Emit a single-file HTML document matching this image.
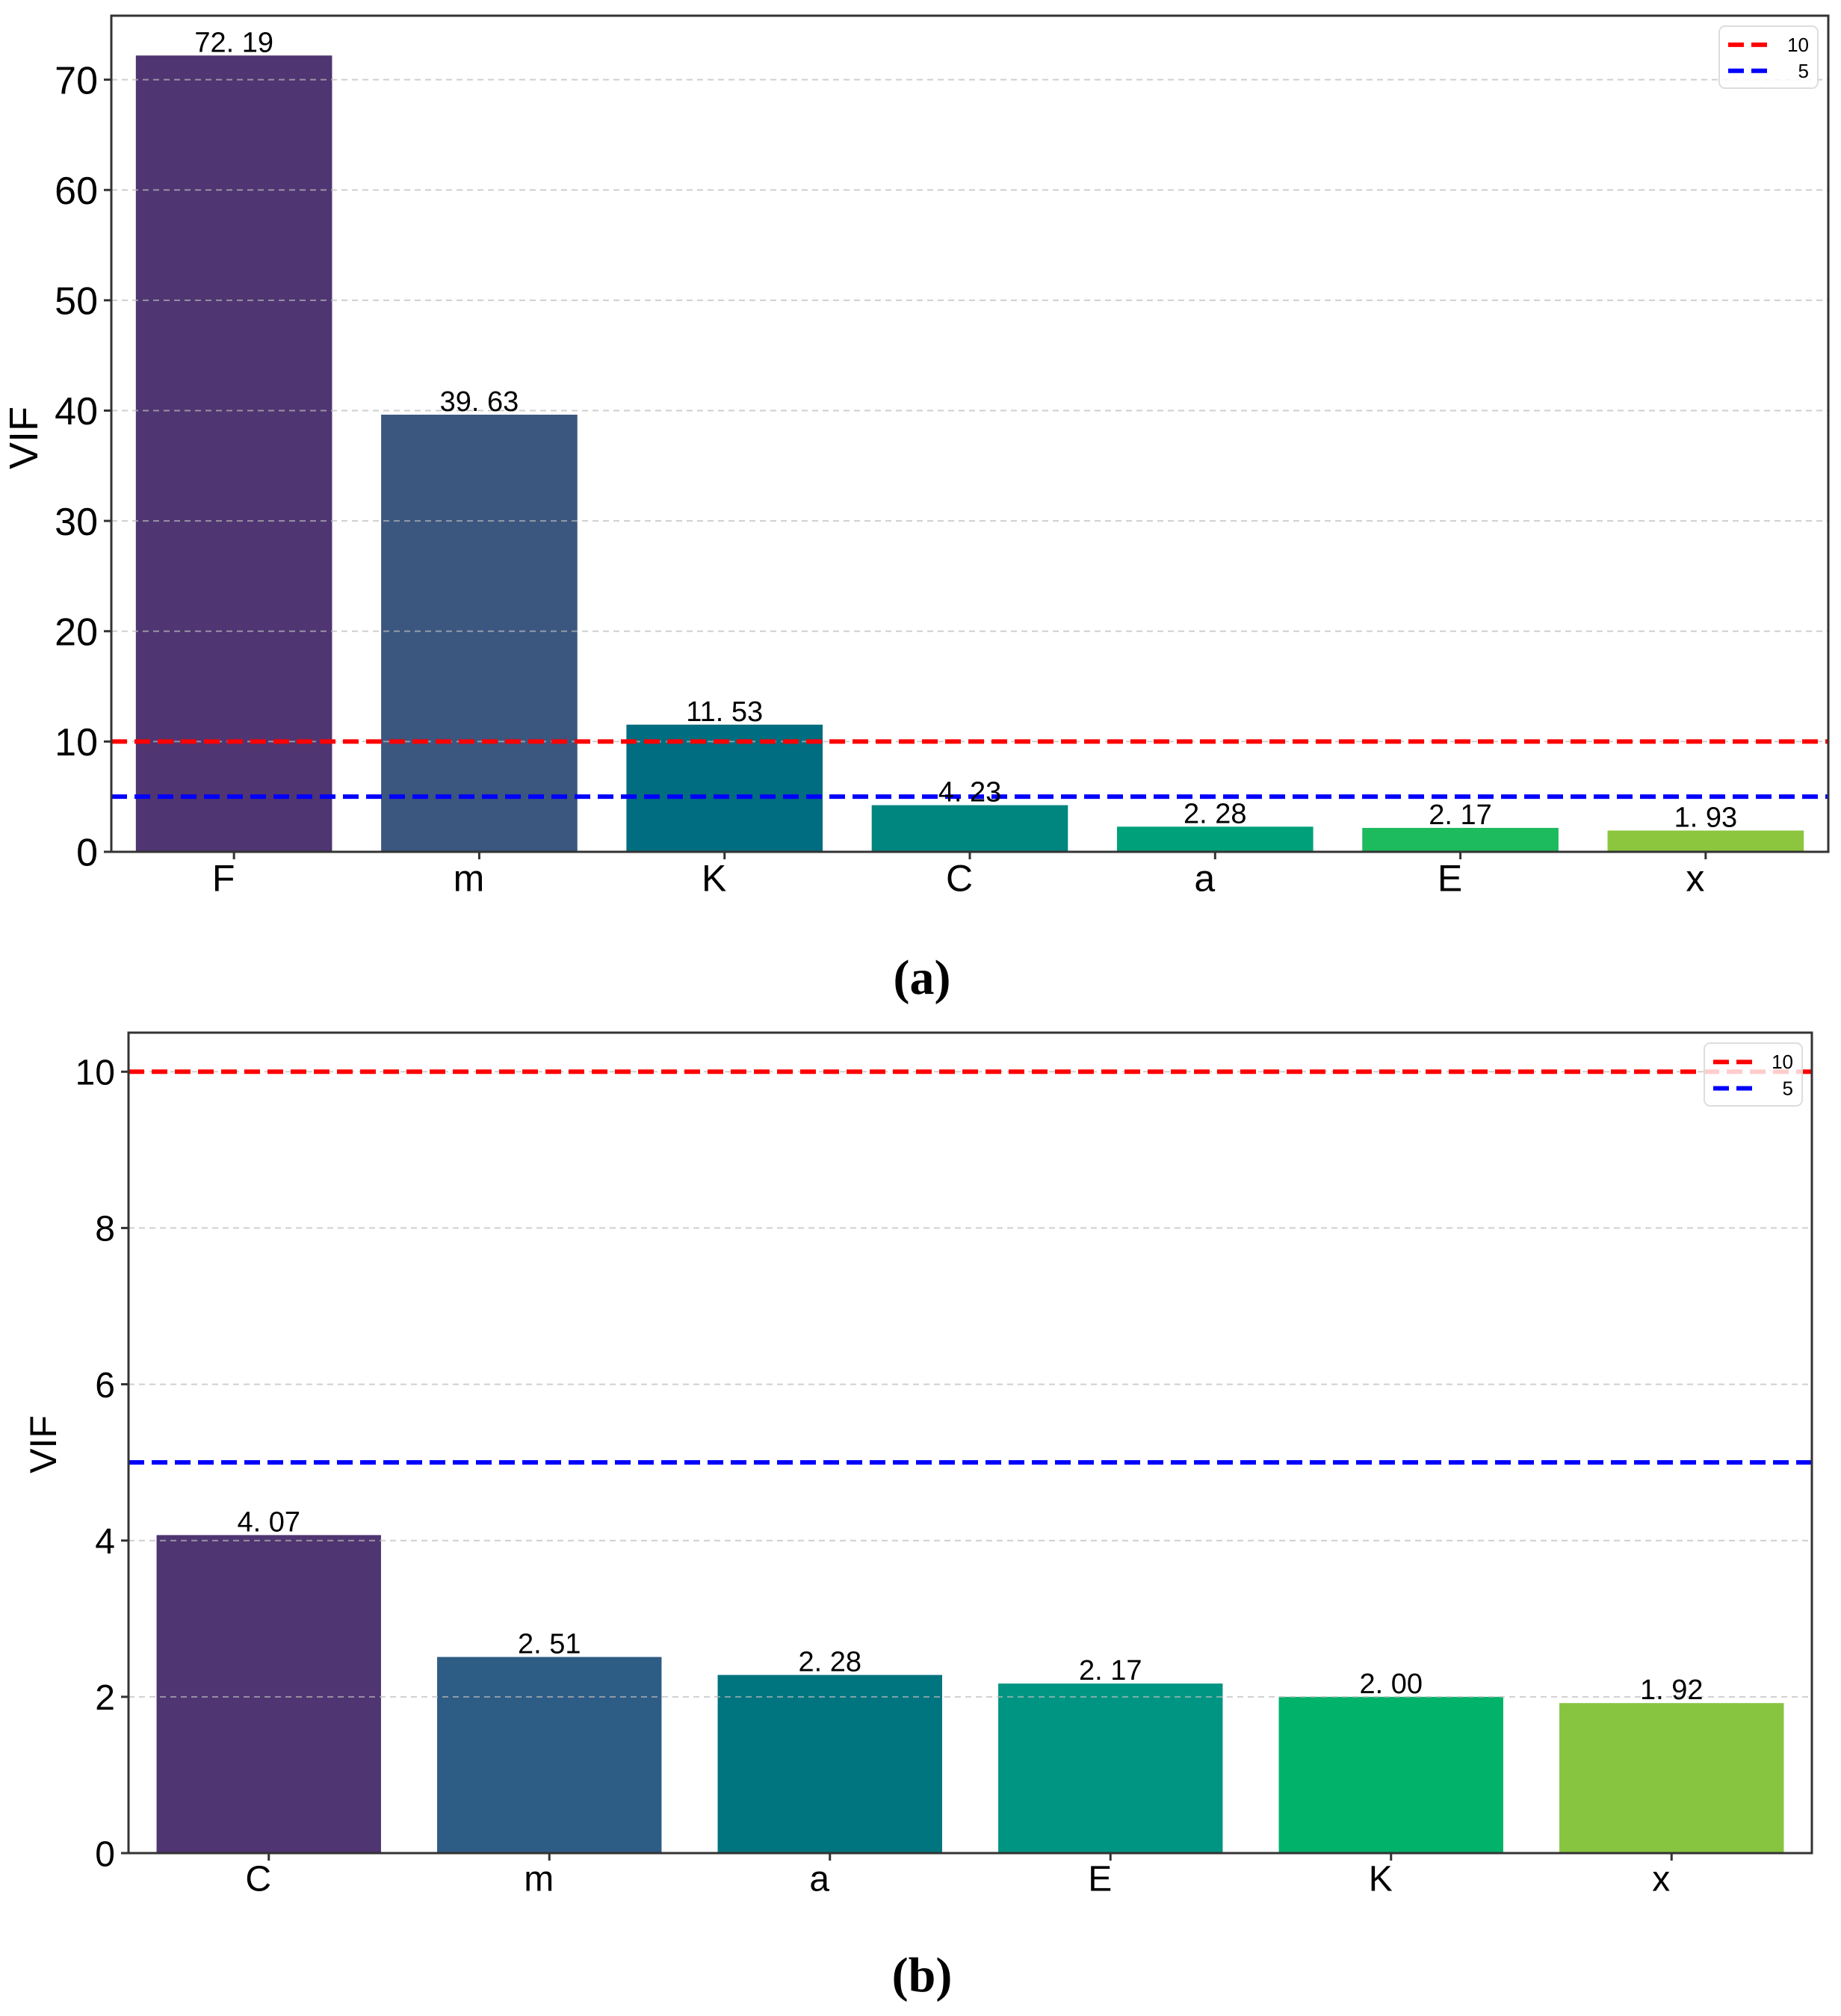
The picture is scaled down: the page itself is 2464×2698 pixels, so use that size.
<!DOCTYPE html>
<html><head><meta charset="utf-8"><style>
html,body{margin:0;padding:0;background:#fff;}
svg{display:block;}
text{font-family:"Liberation Sans","Noto Sans CJK SC",sans-serif;fill:#000;}
</style></head><body>
<svg id="fig" width="2464" height="2698" viewBox="0 0 2464 2698" xmlns="http://www.w3.org/2000/svg"></svg>
<script>
const catsA = ["F","m","K","C","a","E","x"];
const valsA = [72.19,39.63,11.53,4.23,2.28,2.17,1.93];
const colorsA = ["#4f3571","#3b567f","#006d80","#00857f","#00a07a","#1dba5e","#8cc63f"];
const ticksA = [0,10,20,30,40,50,60,70];
const catsB = ["C","m","a","E","K","x"];
const valsB = [4.07,2.51,2.28,2.17,2.00,1.92];
const colorsB = ["#4f3571","#2d5c85","#00747f","#009582","#00b26a","#87c540"];
const ticksB = [0,2,4,6,8,10];
const thresholds = [10,5];
const threshColors = ["#ff0000","#0000ff"];

const NS="http://www.w3.org/2000/svg";
const svg=document.getElementById('fig');
function mk(tag,attrs,parent){const e=document.createElementNS(NS,tag);for(const k in attrs)e.setAttribute(k,attrs[k]);(parent||svg).appendChild(e);return e;}

function chart(cfg){
  const g=mk('g',{});
  
  
  const {L,R,T,B,ymax,xmin,xmax,cats,vals,colors,ticks,tickFont,labFont,valFont}=cfg;
  const y=v=>B-(v/ymax)*(B-T);
  const x=i=>L+(i-xmin)/(xmax-xmin)*(R-L);
  const step=x(1)-x(0), bw=step*0.8;
  cats.forEach((c,i)=>{
    const r=mk('rect',{x:x(i)-bw/2,y:y(vals[i]),width:bw,height:B-y(vals[i]),fill:colors[i]},g);
    
    
  });
  ticks.forEach(t=>{
    const l=mk('line',{x1:L,x2:R,y1:y(t),y2:y(t),stroke:'#bbb','stroke-opacity':0.7,'stroke-width':2,'stroke-dasharray':'8 6'},g);
    
    
  });
  thresholds.forEach((t,k)=>{
    const l=mk('line',{x1:L,x2:R,y1:y(t),y2:y(t),stroke:threshColors[k],'stroke-width':6,'stroke-dasharray':'21 10'},g);
    
    
  });
  cats.forEach((c,i)=>{
    const t=mk('text',{x:x(i),y:y(vals[i])-5,'text-anchor':'middle','font-size':valFont},g);
    t.textContent=vals[i].toFixed(2).replace('.','. ');
    
    
  });
  const f=mk('rect',{x:L,y:T,width:R-L,height:B-T,fill:'none',stroke:'#333','stroke-width':3},g);
  
  
  ticks.forEach(t=>{
    mk('line',{x1:L-10,x2:L,y1:y(t),y2:y(t),stroke:'#333','stroke-width':3},g);
    const tx=mk('text',{x:L-18,y:y(t)+tickFont*0.36,'text-anchor':'end','font-size':tickFont},g);
    tx.textContent=t;
    
    
  });
  cats.forEach((c,i)=>{
    mk('line',{x1:x(i),x2:x(i),y1:B,y2:B+10,stroke:'#333','stroke-width':3},g);
    const tx=mk('text',{x:x(i)-14,y:B+labFont*1.05,'text-anchor':'middle','font-size':labFont},g);
    tx.textContent=c;
    
    
  });
  const yt=mk('text',{x:0,y:0,'text-anchor':'middle','font-size':cfg.ytFont,transform:`translate(${cfg.ytX},${cfg.ytY}) rotate(-90)`},g);
  yt.textContent='VIF';
  
  
  const lg=mk('g',{},g);
  
  
  const [lx,ly,lw,lh]=cfg.leg;
  mk('rect',{x:lx,y:ly,width:lw,height:lh,rx:8,fill:'#fff','fill-opacity':0.8,stroke:'#ddd','stroke-width':2},lg);
  thresholds.forEach((t,k)=>{
    const yy=ly+lh*(0.3+0.42*k);
    mk('line',{x1:lx+12,x2:lx+65,y1:yy,y2:yy,stroke:threshColors[k],'stroke-width':6,'stroke-dasharray':'21 10'},lg);
    const tx=mk('text',{x:lx+lw-12,y:yy+9,'text-anchor':'end','font-size':26},lg);
    tx.textContent=t;
    
    
  });
  const cp=mk('text',{x:1234,y:cfg.capY,'text-anchor':'middle',style:'font-family:"Liberation Serif",serif;font-size:66px;font-weight:bold;'},g);
  cp.textContent=cfg.caption;
  
  
}

chart({name:'chart-a',L:149,R:2447,T:21,B:1140,ymax:75.8,xmin:-0.5,xmax:6.5,cats:catsA,vals:valsA,colors:colorsA,ticks:ticksA,
  tickFont:52,labFont:50,valFont:38,ytX:50,ytY:586,ytFont:54,leg:[2301,35,132,83],capY:1330,caption:'(a)'});
chart({name:'chart-b',L:172,R:2425,T:1382,B:2480,ymax:10.5,xmin:-0.5,xmax:5.5,cats:catsB,vals:valsB,colors:colorsB,ticks:ticksB,
  tickFont:48,labFont:48,valFont:38,ytX:75,ytY:1933,ytFont:50,leg:[2281,1396,131,84],capY:2665,caption:'(b)'});
</script>
</body></html>
